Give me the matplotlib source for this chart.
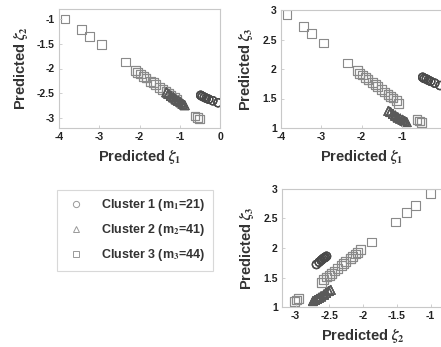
import numpy as np
import matplotlib
matplotlib.use("Agg")
import matplotlib.pyplot as plt
from matplotlib.ticker import FormatStrFormatter
from matplotlib.lines import Line2D

plt.rcParams['font.family'] = ['Liberation Sans', 'DejaVu Sans']
plt.rcParams['font.weight'] = 'bold'
plt.rcParams['axes.unicode_minus'] = False
plt.rcParams['mathtext.fontset'] = 'stix'

# cluster 1 (circles, m1=21) - overlapping in small clumps
c1_z1 = [-0.48, -0.48, -0.48, -0.44, -0.44, -0.44, -0.39, -0.39, -0.39, -0.34, -0.34,
         -0.34, -0.28, -0.28, -0.28, -0.18, -0.18, -0.18, -0.05, -0.05, -0.05]
c1_z2 = [-2.54, -2.54, -2.54, -2.56, -2.56, -2.56, -2.58, -2.58, -2.58, -2.60, -2.60,
         -2.60, -2.62, -2.62, -2.62, -2.65, -2.65, -2.65, -2.69, -2.69, -2.69]
c1_z3 = [1.86, 1.86, 1.86, 1.84, 1.84, 1.84, 1.83, 1.83, 1.83, 1.81, 1.81,
         1.81, 1.79, 1.79, 1.79, 1.76, 1.76, 1.76, 1.72, 1.72, 1.72]

# cluster 2 (triangles, m2=41)
c2_z1 = [-1.33] * 5 + [-1.28] * 5 + [-1.22] * 5 + [-1.16] * 5 + [-1.10] * 5 + \
        [-1.04] * 4 + [-0.98] * 4 + [-0.93] * 4 + [-0.88] * 4
c2_z2 = [-2.48] * 5 + [-2.51] * 5 + [-2.55] * 5 + [-2.58] * 5 + [-2.62] * 5 + \
        [-2.65] * 4 + [-2.68] * 4 + [-2.71] * 4 + [-2.74] * 4
c2_z3 = [1.29] * 5 + [1.27] * 5 + [1.24] * 5 + [1.21] * 5 + [1.18] * 5 + \
        [1.16] * 4 + [1.14] * 4 + [1.12] * 4 + [1.10] * 4

# cluster 3 (squares, m3=44)
c3_z1 = [-3.85, -3.45, -3.25, -2.95, -2.35,
         -2.10, -2.10, -2.04, -2.04, -1.98, -1.98, -1.90, -1.90, -1.84, -1.84, -1.84,
         -1.72, -1.72, -1.66, -1.66, -1.60, -1.60, -1.50, -1.50, -1.42, -1.42,
         -1.34, -1.34, -1.34, -1.28, -1.28, -1.22, -1.22, -1.22, -1.14, -1.14, -1.08, -1.08,
         -0.62, -0.62, -0.56, -0.56, -0.50, -0.50]
c3_z2 = [-1.00, -1.22, -1.35, -1.52, -1.87,
         -2.04, -2.04, -2.08, -2.08, -2.11, -2.11, -2.16, -2.16, -2.19, -2.19, -2.19,
         -2.26, -2.26, -2.29, -2.29, -2.32, -2.32, -2.38, -2.38, -2.42, -2.42,
         -2.47, -2.47, -2.47, -2.50, -2.50, -2.54, -2.54, -2.54, -2.59, -2.59, -2.62, -2.62,
         -2.96, -2.96, -2.99, -2.99, -3.02, -3.02]
c3_z3 = [2.92, 2.72, 2.60, 2.44, 2.10,
         1.97, 1.97, 1.93, 1.93, 1.90, 1.90, 1.86, 1.86, 1.82, 1.82, 1.82,
         1.77, 1.77, 1.74, 1.74, 1.71, 1.71, 1.65, 1.65, 1.61, 1.61,
         1.57, 1.57, 1.57, 1.54, 1.54, 1.51, 1.51, 1.51, 1.46, 1.46, 1.42, 1.42,
         1.15, 1.15, 1.12, 1.12, 1.09, 1.09]

labels = ['Cluster 1 (m$_1$=21)', 'Cluster 2 (m$_2$=41)', 'Cluster 3 (m$_3$=44)']

W, H = 441, 347
fig = plt.figure(figsize=(W / 100, H / 100), dpi=100)


def make_ax(x0, y0, x1, y1):
    return fig.add_axes([x0 / W, 1 - y1 / H, (x1 - x0) / W, (y1 - y0) / H])


def style(ax, xlim, ylim, xticks, yticks, xlab, ylab):
    ax.set_xlim(*xlim)
    ax.set_ylim(*ylim)
    ax.set_xticks(xticks)
    ax.set_yticks(yticks)
    ax.xaxis.set_major_formatter(FormatStrFormatter('%g'))
    ax.yaxis.set_major_formatter(FormatStrFormatter('%g'))
    for s in ax.spines.values():
        s.set_color('#c8c8c8')
        s.set_linewidth(0.8)
    ax.tick_params(direction='in', length=2, width=0.6, color='#c8c8c8',
                   labelsize=7.5, labelcolor='#222222', pad=3)
    for t in ax.get_xticklabels() + ax.get_yticklabels():
        t.set_fontweight('bold')
    ax.set_xlabel(xlab, fontsize=10.5, fontweight='bold', color='#333333', labelpad=4)
    ax.set_ylabel(ylab, fontsize=10.5, fontweight='bold', color='#333333', labelpad=5)


def scatter(ax, x, y):
    ax.scatter(x[2], y[2], marker='s', s=40, facecolors='none', edgecolors='#8a8a8a', linewidths=0.8)
    ax.scatter(x[1], y[1], marker='^', s=40, facecolors='none', edgecolors='#5a5a5a', linewidths=0.8)
    ax.scatter(x[0], y[0], marker='o', s=34, facecolors='none', edgecolors='#4a4a4a', linewidths=0.9)


z1 = [c1_z1, c2_z1, c3_z1]
z2 = [c1_z2, c2_z2, c3_z2]
z3 = [c1_z3, c2_z3, c3_z3]

ax1 = make_ax(59, 9, 220, 128)
scatter(ax1, z1, z2)
style(ax1, (-4, 0), (-3.2, -0.8), [-4, -3, -2, -1, 0], [-3, -2.5, -2, -1.5, -1],
      r'Predicted $\zeta_1$', r'Predicted $\zeta_2$')

ax2 = make_ax(281, 10, 442, 128)
scatter(ax2, z1, z3)
style(ax2, (-4, 0), (1, 3), [-4, -3, -2, -1], [1, 1.5, 2, 2.5, 3],
      r'Predicted $\zeta_1$', r'Predicted $\zeta_3$')

ax3 = make_ax(282, 189, 444, 307)
scatter(ax3, z2, z3)
style(ax3, (-3.2, -0.8), (1, 3), [-3, -2.5, -2, -1.5, -1], [1, 1.5, 2, 2.5, 3],
      r'Predicted $\zeta_2$', r'Predicted $\zeta_3$')

handles = [Line2D([], [], ls='none', marker=m, ms=4.5, mfc='none', mec='#999999', mew=0.7)
           for m in ['o', '^', 's']]
leg = fig.legend(handles, labels, loc='upper left', bbox_to_anchor=(57 / W, 1 - 190 / H),
                 borderaxespad=0, frameon=True, fancybox=False,
                 prop={'weight': 'bold', 'size': 9}, handlelength=1.8, handletextpad=1.1,
                 labelspacing=0.7, borderpad=0.6)
leg.get_frame().set_edgecolor('#cfcfcf')
leg.get_frame().set_linewidth(0.8)
for t in leg.get_texts():
    t.set_color('#333333')

fig.savefig('out.png', dpi=100)
